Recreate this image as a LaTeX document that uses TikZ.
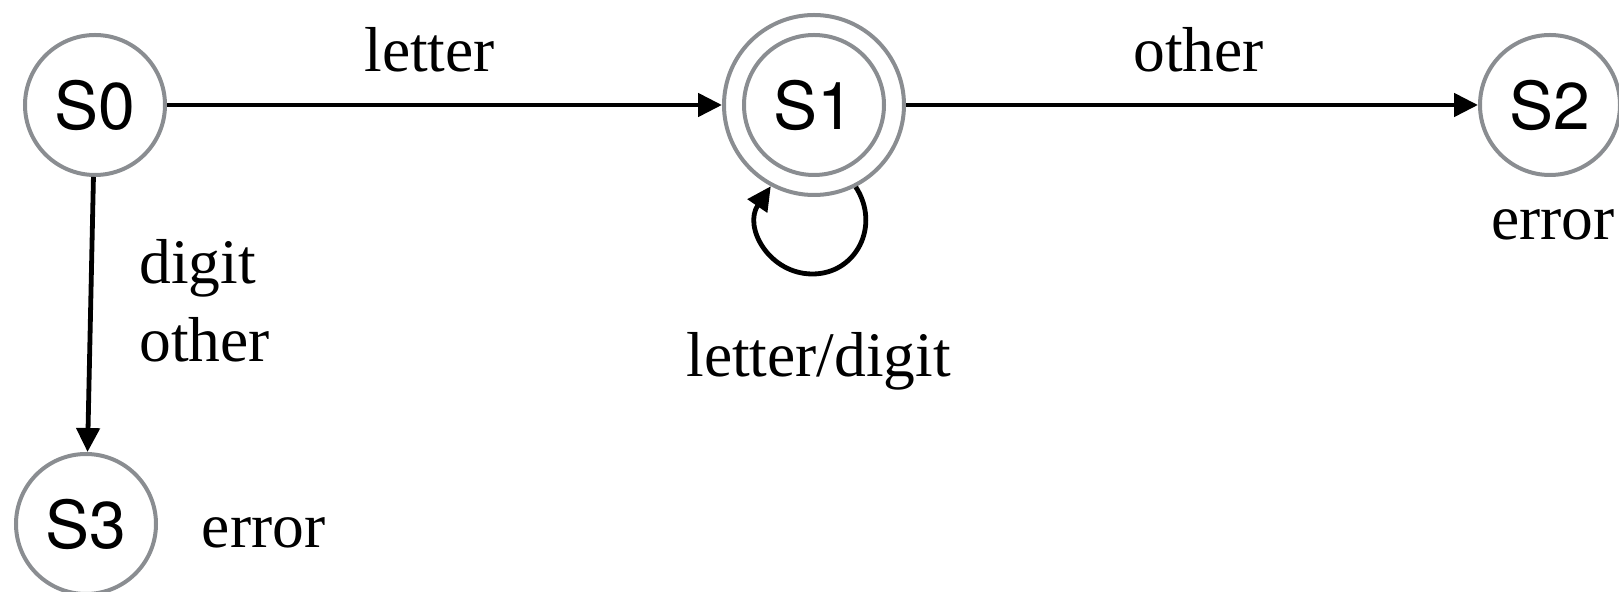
\documentclass[tikz,border=0pt]{standalone}
\usepackage{fontspec}
\setmainfont{Liberation Serif}
\newfontfamily\statefont{TeX Gyre Heros}
\usetikzlibrary{arrows.meta}
\definecolor{ring}{HTML}{8A8D91}
\begin{document}
\begin{tikzpicture}[x=0.5pt,y=-0.5pt,
  state/.style={circle, draw=ring, line width=2pt, minimum size=70pt, inner sep=0pt,
    font=\statefont\fontsize{33}{40}\selectfont},
  edge/.style={line width=2.4pt, -{Triangle[length=12pt,width=11.5pt]}},
  lbl/.style={anchor=base west, inner sep=0pt, font=\fontsize{31.75}{38}\selectfont}]
\useasboundingbox (0,0) rectangle (1619,592);
\node[state] (s0) at (95,105) {S0};
\node[state, minimum size=90pt] (s1) at (814,105) {};
\node[state] (s1in) at (814,105) {S1};
\node[state] (s2) at (1550,105) {S2};
\node[state] (s3) at (86,524) {S3};

\draw[edge] (s0) -- (s1);
\draw[edge] (s1) -- (s2);
\draw[edge] (s0) -- (s3);
\draw[edge] (s1.-63.5) .. controls (881,226) and (856,274) .. (812.5,274)
  .. controls (769,274) and (743,227) .. (s1.-118.6);

\node[lbl] (l1) at (364,72) {letter};
\node[lbl] (l2) at (1133,72) {other};
\node[lbl] (l3) at (139,284) {digit};
\node[lbl] (l4) at (139,362) {other};
\node[lbl] (l5) at (686,377) {letter/digit};
\node[lbl] (l6) at (1491,240) {error};
\node[lbl] (l7) at (201.5,548) {error};
\end{tikzpicture}
\end{document}
